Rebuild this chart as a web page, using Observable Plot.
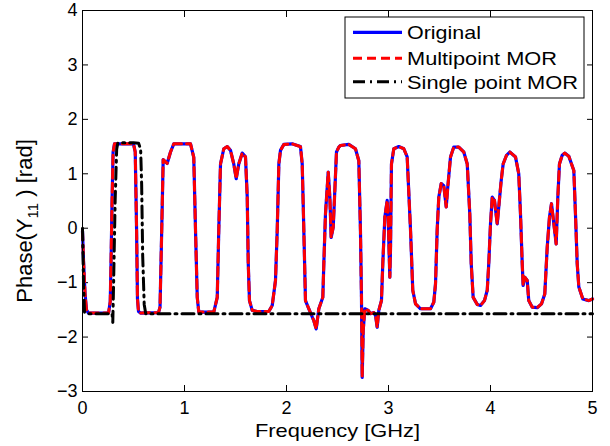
<!DOCTYPE html>
<html>
<head>
<meta charset="utf-8">
<script src="https://cdn.jsdelivr.net/npm/d3@7"></script>
<script src="https://cdn.jsdelivr.net/npm/@observablehq/plot@0.6"></script>
<style>
  html, body { margin: 0; padding: 0; background: white; }
  #chart { width: 610px; height: 446px; }
</style>
</head>
<body>
<div id="chart"></div>
<script>
// ---- Data ----
const xTicks = [0, 1, 2, 3, 4, 5];
const yTicks = [-3, -2, -1, 0, 1, 2, 3, 4];

// Original response: frequency [GHz] and phase [rad]
const freqOriginal = [
  0.000, 0.010, 0.025, 0.039, 0.059, 0.255, 0.272, 0.278, 0.290, 0.300, 0.314,
  0.500, 0.517, 0.530, 0.539, 0.549, 0.569, 0.745, 0.760, 0.777, 0.791, 0.830,
  0.863, 0.895, 1.059, 1.091, 1.108, 1.125, 1.140, 1.287, 1.321, 1.336, 1.353,
  1.385, 1.419, 1.451, 1.483, 1.507, 1.532, 1.566, 1.598, 1.615, 1.625, 1.637,
  1.664, 1.713, 1.826, 1.860, 1.892, 1.909, 1.925, 1.941, 1.974, 2.056, 2.105,
  2.137, 2.154, 2.170, 2.186, 2.219, 2.268, 2.291, 2.317, 2.356, 2.366, 2.382,
  2.409, 2.425, 2.438, 2.458, 2.471, 2.490, 2.513, 2.529, 2.611, 2.676, 2.709,
  2.725, 2.735, 2.742, 2.752, 2.768, 2.801, 2.824, 2.856, 2.873, 2.889, 2.905,
  2.931, 2.944, 2.964, 2.987, 2.997, 3.003, 3.013, 3.020, 3.029, 3.052, 3.101,
  3.150, 3.183, 3.216, 3.238, 3.265, 3.314, 3.412, 3.444, 3.461, 3.477, 3.493,
  3.517, 3.542, 3.566, 3.581, 3.608, 3.640, 3.689, 3.738, 3.772, 3.797, 3.811,
  3.830, 3.870, 3.902, 3.941, 3.968, 3.983, 4.000, 4.017, 4.039, 4.066, 4.081,
  4.105, 4.124, 4.157, 4.189, 4.245, 4.277, 4.294, 4.311, 4.320, 4.336, 4.360,
  4.375, 4.409, 4.458, 4.500, 4.532, 4.556, 4.578, 4.598, 4.621, 4.644, 4.660,
  4.676, 4.703, 4.728, 4.768, 4.817, 4.833, 4.850, 4.866, 4.905, 4.964, 5.000
];
const phaseOriginal = [
  -0.05, -0.60, -1.20, -1.50, -1.56, -1.56, -1.35, -0.80, 0.50, 1.40, 1.55,
  1.55, 1.40, 0.00, -1.30, -1.53, -1.56, -1.55, -1.45, 0.00, 1.26, 1.19,
  1.40, 1.55, 1.55, 1.30, -0.04, -1.27, -1.54, -1.54, -1.27, -0.04, 1.18,
  1.46, 1.50, 1.43, 1.18, 0.91, 1.18, 1.38, 1.31, 0.57, -0.65, -1.33,
  -1.51, -1.53, -1.53, -1.42, -0.96, -0.04, 1.18, 1.43, 1.54, 1.55, 1.52,
  1.50, 1.18, -0.04, -1.33, -1.48, -1.70, -1.85, -1.48, -1.27, -0.65, 0.26,
  1.03, 0.57, -0.17, 0.02, 0.57, 1.40, 1.49, 1.52, 1.54, 1.46, 1.24,
  -0.04, -1.27, -2.74, -1.88, -1.48, -1.51, -1.57, -1.55, -1.60, -1.82, -1.51,
  -1.33, -0.65, 0.20, 0.51, 0.20, -0.23, -0.90, -0.35, 1.18, 1.46, 1.50,
  1.46, 1.31, -0.04, -1.14, -1.39, -1.48, -1.48, -1.36, -1.02, -0.04, 0.57,
  0.82, 0.78, 0.39, 0.75, 1.31, 1.49, 1.49, 1.40, 1.18, 0.26, -0.65,
  -1.27, -1.40, -1.42, -1.33, -1.14, -0.65, 0.08, 0.57, 0.51, 0.08, 0.39,
  0.88, 1.18, 1.34, 1.40, 1.31, 1.00, 0.26, -0.65, -1.05, -0.90, -0.96,
  -1.33, -1.45, -1.46, -1.39, -1.21, -0.35, 0.20, 0.45, 0.08, -0.29, 0.57,
  1.18, 1.34, 1.38, 1.32, 1.06, 0.26, -0.65, -1.08, -1.30, -1.33, -1.30
];

// Multipoint MOR: overlaps the original curve everywhere in the picture
const freqMultipoint = freqOriginal.slice();
const phaseMultipoint = phaseOriginal.slice();

// Single point MOR
const freqSingle = [
  0.000, 0.010, 0.020, 0.060, 0.290, 0.297, 0.305, 0.320, 0.335, 0.346,
  0.400, 0.500, 0.550, 0.570, 0.580, 0.590, 0.605, 0.620, 5.000
];
const phaseSingle = [
  0.00, -1.00, -1.55, -1.57, -1.57, -1.73, -1.00, 0.50, 1.45, 1.56,
  1.57, 1.57, 1.56, 1.45, 0.80, -0.50, -1.40, -1.57, -1.57
];

const seriesNames = ["Original", "Multipoint MOR", "Single point MOR"];
const seriesColors = ["#0000ff", "#ff0000", "#000000"];
const seriesDash = [null, "9,5", "12,5,2,5"];
const seriesWidth = [3.2, 3, 3];

const xLabel = "Frequency [GHz]";

// ---- Build tables ----
const toRows = (xs, ys) => xs.map((x, i) => ({x, y: ys[i]}));
const rowsOriginal = toRows(freqOriginal, phaseOriginal);
const rowsMultipoint = toRows(freqMultipoint, phaseMultipoint);
const rowsSingle = toRows(freqSingle, phaseSingle);

const font = "'Liberation Sans', Arial, Helvetica, sans-serif";

const chart = Plot.plot({
  width: 610,
  height: 446,
  marginLeft: 82,
  marginRight: 18,
  marginTop: 10,
  marginBottom: 55,
  x: {domain: [0, 5]},
  y: {domain: [-3, 4]},
  style: {fontFamily: font, fontSize: "18px", background: "white", color: "black", overflow: "visible"},
  marks: [
    Plot.axisX({ticks: xTicks, tickSize: -6, tickPadding: 16, tickFormat: "d", label: null, fontSize: 18}),
    Plot.axisX({anchor: "top", ticks: xTicks, tickSize: -6, tickFormat: () => "", label: null}),
    Plot.axisY({ticks: yTicks, tickSize: -6, tickPadding: 11, tickFormat: "d", label: null, fontSize: 18}),
    Plot.axisY({anchor: "right", ticks: yTicks, tickSize: -6, tickFormat: () => "", label: null}),
    Plot.line(rowsOriginal, {x: "x", y: "y", stroke: seriesColors[0], strokeWidth: seriesWidth[0]}),
    Plot.line(rowsMultipoint, {x: "x", y: "y", stroke: seriesColors[1], strokeWidth: seriesWidth[1], strokeDasharray: seriesDash[1]}),
    Plot.line(rowsSingle, {x: "x", y: "y", stroke: seriesColors[2], strokeWidth: seriesWidth[2], strokeDasharray: seriesDash[2]}),
    Plot.frame({stroke: "black", strokeWidth: 1})
  ]
});

document.getElementById("chart").appendChild(chart);

// ---- Axis titles and legend (added to the same SVG) ----
const svg = d3.select(chart);

svg.append("text")
  .attr("x", 337.5).attr("y", 437)
  .attr("text-anchor", "middle")
  .attr("font-family", font).attr("font-size", 19)
  .attr("textLength", 165).attr("lengthAdjust", "spacingAndGlyphs")
  .attr("fill", "black")
  .text(xLabel);

const yl = svg.append("text")
  .attr("transform", "translate(32,221) rotate(-90)")
  .attr("text-anchor", "middle")
  .attr("font-family", font).attr("font-size", 22)
  .attr("fill", "black");
yl.append("tspan").text("Phase(Y");
yl.append("tspan").attr("font-size", 15).attr("dy", 6).text("11");
yl.append("tspan").attr("dy", -6).text(" ) [rad]");

const lg = svg.append("g").attr("transform", "translate(345,17)");
lg.append("rect").attr("width", 239).attr("height", 81)
  .attr("fill", "white").attr("stroke", "black").attr("stroke-width", 1);
const rowY = [15.3, 41.3, 64.7];
const textBase = [22.3, 48, 71.5];
const textLen = [74, 150, 171];
seriesNames.forEach((name, i) => {
  const ln = lg.append("line")
    .attr("x1", 8).attr("x2", 57).attr("y1", rowY[i]).attr("y2", rowY[i])
    .attr("stroke", seriesColors[i]).attr("stroke-width", seriesWidth[i]);
  if (seriesDash[i]) ln.attr("stroke-dasharray", seriesDash[i]);
  lg.append("text")
    .attr("x", 62).attr("y", textBase[i])
    .attr("text-anchor", "start")
    .attr("font-family", font).attr("font-size", 19)
    .attr("textLength", textLen[i]).attr("lengthAdjust", "spacingAndGlyphs")
    .attr("fill", "black")
    .text(name);
});
</script>
</body>
</html>
